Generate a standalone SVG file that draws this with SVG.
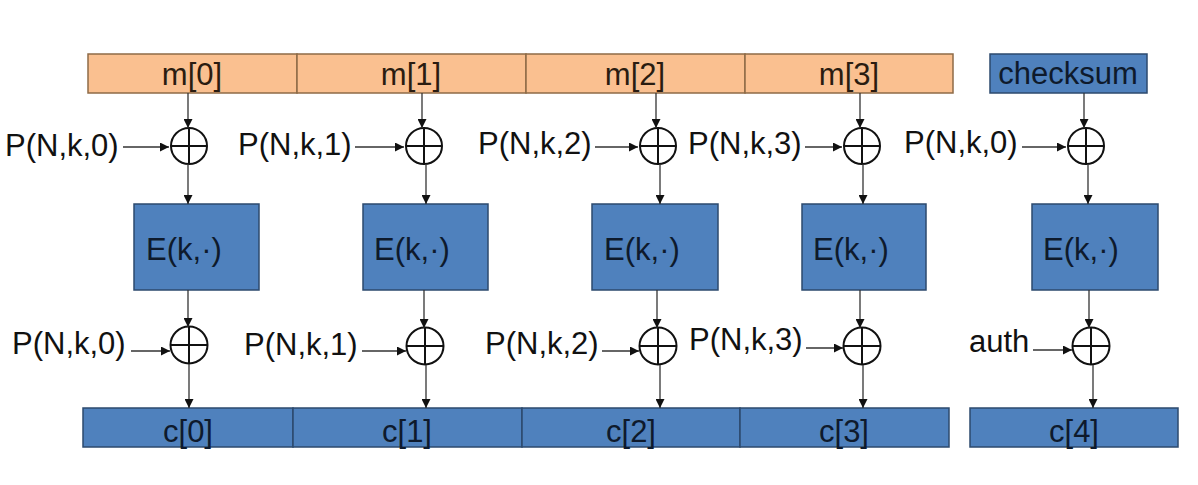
<svg xmlns="http://www.w3.org/2000/svg" width="1198" height="485" viewBox="0 0 1198 485">
<defs>
<style>
.bg{fill:#ffffff}
.or{fill:#FAC090;stroke:#8E6B47;stroke-width:1.5}
.bl{fill:#4F81BD;stroke:#2C4A6E;stroke-width:1.5}
.tx{font-family:"Liberation Sans",Arial,sans-serif;font-size:31px;fill:#111111}
.tb{font-family:"Liberation Sans",Arial,sans-serif;font-size:31px;fill:#0E1A2C;text-anchor:middle}
.to{font-family:"Liberation Sans",Arial,sans-serif;font-size:31px;fill:#2A1C10;text-anchor:middle}
.xc{fill:#ffffff;stroke:#111111;stroke-width:2}
.xp{stroke:#111111;stroke-width:2}
.cn{stroke:#333333;stroke-width:1.3;fill:none;marker-end:url(#ah)}
</style>
<marker id="ah" markerUnits="userSpaceOnUse" markerWidth="10" markerHeight="9" refX="9" refY="4.5" orient="auto">
<path d="M0,0 L9,4.5 L0,9 z" fill="#111111"/>
</marker>
</defs>
<rect class="bg" x="0" y="0" width="1198" height="485"/>

<g id="m0"><rect class="or" x="88" y="54" width="209" height="39"/><text class="to" x="192" y="85">m[0]</text></g>
<g id="m1"><rect class="or" x="297" y="54" width="229" height="39"/><text class="to" x="411" y="85">m[1]</text></g>
<g id="m2"><rect class="or" x="526" y="54" width="219" height="39"/><text class="to" x="635" y="85">m[2]</text></g>
<g id="m3"><rect class="or" x="745" y="54" width="208" height="39"/><text class="to" x="849" y="85">m[3]</text></g>
<g id="checksum"><rect class="bl" x="990" y="54" width="157" height="39"/><text class="tb" x="1068" y="84">checksum</text></g>

<g id="xt0"><circle class="xc" cx="189" cy="146" r="18"/><path class="xp" d="M171,146 H207 M189,128 V164"/></g>
<g id="xt1"><circle class="xc" cx="424" cy="146" r="18"/><path class="xp" d="M406,146 H442 M424,128 V164"/></g>
<g id="xt2"><circle class="xc" cx="658" cy="146" r="18"/><path class="xp" d="M640,146 H676 M658,128 V164"/></g>
<g id="xt3"><circle class="xc" cx="862" cy="146" r="18"/><path class="xp" d="M844,146 H880 M862,128 V164"/></g>
<g id="xt4"><circle class="xc" cx="1086" cy="146" r="18"/><path class="xp" d="M1068,146 H1104 M1086,128 V164"/></g>

<g id="e0"><rect class="bl" x="134" y="204" width="125" height="86"/><text class="tb" x="184" y="260">E(k,·)</text></g>
<g id="e1"><rect class="bl" x="363" y="204" width="125" height="86"/><text class="tb" x="412" y="260">E(k,·)</text></g>
<g id="e2"><rect class="bl" x="592" y="204" width="126" height="86"/><text class="tb" x="642" y="260">E(k,·)</text></g>
<g id="e3"><rect class="bl" x="802" y="204" width="124" height="86"/><text class="tb" x="851" y="260">E(k,·)</text></g>
<g id="e4"><rect class="bl" x="1032" y="204" width="126" height="86"/><text class="tb" x="1081" y="260">E(k,·)</text></g>

<g id="xb0"><circle class="xc" cx="189" cy="345" r="18.5"/><path class="xp" d="M170.5,345 H207.5 M189,326.5 V363.5"/></g>
<g id="xb1"><circle class="xc" cx="425" cy="346" r="18.5"/><path class="xp" d="M406.5,346 H443.5 M425,327.5 V364.5"/></g>
<g id="xb2"><circle class="xc" cx="658" cy="346" r="18.5"/><path class="xp" d="M639.5,346 H676.5 M658,327.5 V364.5"/></g>
<g id="xb3"><circle class="xc" cx="862" cy="346" r="18.5"/><path class="xp" d="M843.5,346 H880.5 M862,327.5 V364.5"/></g>
<g id="xb4"><circle class="xc" cx="1091" cy="346" r="18.5"/><path class="xp" d="M1072.5,346 H1109.5 M1091,327.5 V364.5"/></g>

<g id="c0"><rect class="bl" x="83" y="408" width="210" height="39"/><text class="tb" x="188" y="442">c[0]</text></g>
<g id="c1"><rect class="bl" x="293" y="408" width="229" height="39"/><text class="tb" x="407" y="442">c[1]</text></g>
<g id="c2"><rect class="bl" x="522" y="408" width="218" height="39"/><text class="tb" x="631" y="442">c[2]</text></g>
<g id="c3"><rect class="bl" x="740" y="408" width="209" height="39"/><text class="tb" x="844" y="442">c[3]</text></g>
<g id="c4"><rect class="bl" x="970" y="408" width="208" height="39"/><text class="tb" x="1074" y="442">c[4]</text></g>

<g id="labels">
<text class="tx" x="5" y="156">P(N,k,0)</text>
<text class="tx" x="238" y="155">P(N,k,1)</text>
<text class="tx" x="478" y="154">P(N,k,2)</text>
<text class="tx" x="688" y="154">P(N,k,3)</text>
<text class="tx" x="904" y="153">P(N,k,0)</text>
<text class="tx" x="12" y="354">P(N,k,0)</text>
<text class="tx" x="244" y="355">P(N,k,1)</text>
<text class="tx" x="485" y="354">P(N,k,2)</text>
<text class="tx" x="689" y="350">P(N,k,3)</text>
<text class="tx" x="969" y="352">auth</text>
</g>

<g id="connectors">
<line class="cn" x1="188" y1="93" x2="188" y2="128"/>
<line class="cn" x1="188" y1="164" x2="188" y2="204"/>
<line class="cn" x1="188" y1="290" x2="188" y2="327"/>
<line class="cn" x1="189" y1="364" x2="189" y2="408"/>
<line class="cn" x1="422" y1="93" x2="422" y2="128"/>
<line class="cn" x1="426" y1="164" x2="426" y2="204"/>
<line class="cn" x1="424" y1="290" x2="424" y2="328"/>
<line class="cn" x1="426" y1="365" x2="426" y2="408"/>
<line class="cn" x1="656" y1="93" x2="656" y2="128"/>
<line class="cn" x1="660" y1="164" x2="660" y2="204"/>
<line class="cn" x1="657" y1="290" x2="657" y2="328"/>
<line class="cn" x1="660" y1="365" x2="660" y2="408"/>
<line class="cn" x1="860" y1="93" x2="860" y2="128"/>
<line class="cn" x1="863" y1="164" x2="863" y2="204"/>
<line class="cn" x1="860" y1="290" x2="860" y2="328"/>
<line class="cn" x1="863" y1="365" x2="863" y2="408"/>
<line class="cn" x1="1084" y1="93" x2="1084" y2="128"/>
<line class="cn" x1="1088" y1="164" x2="1088" y2="204"/>
<line class="cn" x1="1089" y1="290" x2="1089" y2="328"/>
<line class="cn" x1="1093" y1="365" x2="1093" y2="408"/>
<line class="cn" x1="123" y1="147" x2="169" y2="147"/>
<line class="cn" x1="355" y1="147" x2="404" y2="147"/>
<line class="cn" x1="595" y1="147" x2="638" y2="147"/>
<line class="cn" x1="805" y1="147" x2="842" y2="147"/>
<line class="cn" x1="1022" y1="147" x2="1066" y2="147"/>
<line class="cn" x1="131" y1="351" x2="170" y2="351"/>
<line class="cn" x1="362" y1="351" x2="406" y2="351"/>
<line class="cn" x1="602" y1="351" x2="639" y2="351"/>
<line class="cn" x1="806" y1="348" x2="843" y2="348"/>
<line class="cn" x1="1033" y1="350" x2="1072" y2="350"/>
</g>
</svg>
